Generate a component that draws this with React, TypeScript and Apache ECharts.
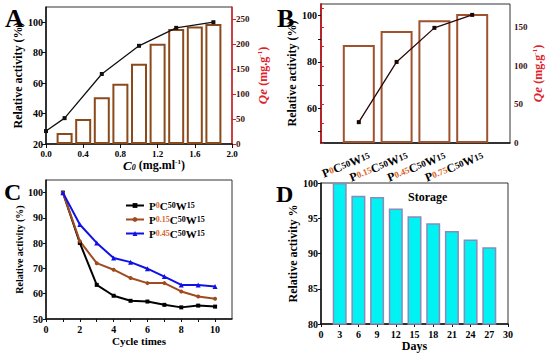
import React, { useEffect, useRef } from "react";
import * as echarts from "echarts";

const FONT = "Liberation Serif";
const RED = "#e0202a";
const BROWN = "#a0522d";
const ORANGE = "#d9661f";

// Panel A
const A_barX = [0.2, 0.4, 0.6, 0.8, 1.0, 1.2, 1.4, 1.6, 1.8];
const A_qe = [22, 50, 94, 121, 161, 201, 231, 236, 241];
const A_lineX = [0, 0.2, 0.6, 1.0, 1.4, 1.8];
const A_activity = [28.5, 37, 66, 84.5, 96.3, 100];
const A_xTicks = [0, 0.4, 0.8, 1.2, 1.6, 2.0];
const A_leftTicks = [20, 40, 60, 80, 100];
const A_rightTicks = [0, 50, 100, 150, 200, 250];

// Panel B
const B_pos = [1, 2, 3, 4];
const B_p = ["0", "0.15", "0.45", "0.75"];
const B_qe = [127, 145, 159, 167];
const B_activity = [54, 80, 94.7, 100.3];
const B_leftTicks = [60, 80, 100];
const B_rightTicks = [0, 50, 100, 150];

// Panel C
const C_cycles = [1, 2, 3, 4, 5, 6, 7, 8, 9, 10];
const C_names = ["P0C50W15", "P0.15C50W15", "P0.45C50W15"];
const C_p0 = [100, 80.1, 63.5, 59.2, 57.2, 56.9, 55.6, 54.6, 55.3, 54.9];
const C_p015 = [100, 80.8, 72.1, 69.5, 66.2, 64.2, 64.2, 60.9, 58.9, 58.0];
const C_p045 = [100, 87.4, 80.1, 74.1, 72.5, 69.9, 66.8, 63.5, 63.5, 62.9];
const C_xTicks = [0, 2, 4, 6, 8, 10];
const C_yTicks = [50, 60, 70, 80, 90, 100];

// Panel D
const D_days = [3, 6, 9, 12, 15, 18, 21, 24, 27];
const D_activity = [100, 98.2, 98.0, 96.4, 95.3, 94.3, 93.2, 92.0, 90.9];

const bold = (size: number, extra: any = {}) => ({
  fontFamily: FONT,
  fontWeight: "bold",
  fontSize: size,
  color: "#000",
  ...extra,
});

const qeRich = {
  qi: bold(13, { color: RED, fontStyle: "italic" }),
  t: bold(12, { color: RED }),
  sup: bold(7, { color: RED, verticalAlign: "top" }),
};
const qeName = "{qi|Qe} {t|(mg.g}{sup|-1}{t|)}";

const pRich = (size: number) => ({
  p: bold(size),
  o: bold(size - 3, { color: ORANGE }),
  s: bold(size - 3),
});
const pLabel = (p: string) => `{p|P}{o|${p}}{p|C}{s|50}{p|W}{s|15}`;

const axisLineBlack = { show: true, lineStyle: { color: "#111", width: 1.5 } };
const axisLineRed = { show: true, lineStyle: { color: RED, width: 1.5 } };

const bLabelAxis = (values: number[], showLine: boolean) => ({
  gridIndex: 1,
  type: "value",
  position: "bottom",
  offset: 0,
  min: 0,
  max: 5,
  axisLine: showLine ? axisLineBlack : { show: false },
  axisTick: { show: false },
  axisLabel: {
    customValues: values.map((p) => p + 0.28),
    formatter: (v: number) => pLabel(B_p[Math.round(v - 0.28) - 1]),
    rotate: 22,
    margin: 12,
    showMinLabel: true,
    showMaxLabel: true,
    hideOverlap: false,
    rich: pRich(12),
  },
  splitLine: { show: false },
});

export default function App() {
  const ref = useRef<HTMLDivElement>(null);
  useEffect(() => {
    if (!ref.current) return;
    const chart = echarts.init(ref.current, null, { renderer: "svg" });
    const gridBase = {
      show: true,
      borderColor: "#333",
      borderWidth: 1,
      backgroundColor: "transparent",
      outerBoundsMode: "none",
      containLabel: false,
    };
    const option: any = {
      animation: false,
      backgroundColor: "#fff",
      grid: [
        { ...gridBase, left: 46, top: 7, width: 186, height: 137 },
        { ...gridBase, left: 321, top: 4, width: 189, height: 139 },
        { ...gridBase, left: 46, top: 180, width: 186, height: 139 },
        { ...gridBase, left: 321, top: 183, width: 187, height: 141 },
      ],
      xAxis: [
        {
          gridIndex: 0,
          type: "value",
          min: 0,
          max: 2,
          axisLine: axisLineBlack,
          axisTick: { show: true, customValues: A_xTicks, length: 4, lineStyle: { color: "#111" } },
          axisLabel: {
            customValues: A_xTicks,
            formatter: (v: number) => v.toFixed(1),
            margin: 5,
            showMinLabel: true,
            showMaxLabel: true,
            ...bold(9),
          },
          splitLine: { show: false },
          name: "{ci|C}{sub|0}{t| (mg.ml}{sup|-1}{t|)}",
          nameLocation: "middle",
          nameGap: 14,
          nameTextStyle: {
            padding: [0, 0, 0, 30],
            rich: {
              ci: bold(13, { fontStyle: "italic" }),
              sub: bold(8, { fontStyle: "italic", verticalAlign: "bottom" }),
              t: bold(12),
              sup: bold(7, { verticalAlign: "top" }),
            },
          },
        },
        bLabelAxis([1, 3], true),
        {
          gridIndex: 2,
          type: "value",
          min: 0,
          max: 11,
          axisLine: axisLineBlack,
          axisTick: { show: true, customValues: [0, 1, 2, 3, 4, 5, 6, 7, 8, 9, 10], length: 3, lineStyle: { color: "#111" } },
          axisLabel: { customValues: C_xTicks, margin: 5, showMinLabel: true, ...bold(10) },
          splitLine: { show: false },
          name: "Cycle times",
          nameLocation: "middle",
          nameGap: 16,
          nameTextStyle: bold(11),
        },
        {
          gridIndex: 3,
          type: "value",
          min: 0,
          max: 30,
          interval: 3,
          axisLine: axisLineBlack,
          axisTick: { show: true, length: 3, lineStyle: { color: "#111" } },
          axisLabel: { margin: 5, showMinLabel: true, showMaxLabel: true, ...bold(10) },
          splitLine: { show: false },
          name: "Days",
          nameLocation: "middle",
          nameGap: 15,
          nameTextStyle: bold(12),
        },
        bLabelAxis([2, 4], false),
      ],
      yAxis: [
        {
          gridIndex: 0,
          type: "value",
          min: 20,
          max: 110,
          position: "left",
          axisLine: axisLineBlack,
          axisTick: { show: true, customValues: A_leftTicks, length: 4, lineStyle: { color: "#111" } },
          axisLabel: { customValues: A_leftTicks, margin: 3, ...bold(10) },
          splitLine: { show: false },
          name: "Relative activity (%)",
          nameLocation: "middle",
          nameRotate: 90,
          nameGap: 19,
          nameTextStyle: bold(12),
        },
        {
          gridIndex: 0,
          type: "value",
          min: 0,
          max: 275,
          position: "right",
          axisLine: axisLineRed,
          axisTick: { show: true, customValues: A_rightTicks, length: 4, lineStyle: { color: RED } },
          axisLabel: { customValues: A_rightTicks, margin: 4, ...bold(9, { color: "#3a1010" }) },
          splitLine: { show: false },
          name: qeName,
          nameLocation: "middle",
          nameRotate: 90,
          nameGap: 24,
          nameTextStyle: { rich: qeRich },
        },
        {
          gridIndex: 1,
          type: "value",
          min: 45,
          max: 105,
          position: "left",
          axisLine: axisLineBlack,
          axisTick: { show: true, customValues: [50, 60, 70, 80, 90, 100], length: 3, lineStyle: { color: "#111" } },
          axisLabel: { customValues: B_leftTicks, margin: 4, ...bold(10) },
          splitLine: { show: false },
          name: "Relative activity (%)",
          nameLocation: "middle",
          nameRotate: 90,
          nameGap: 22,
          nameTextStyle: bold(12),
        },
        {
          gridIndex: 1,
          type: "value",
          min: 0,
          max: 180,
          position: "right",
          axisLine: axisLineRed,
          axisTick: { show: true, customValues: [0, 25, 50, 75, 100, 125, 150, 175], length: 3, lineStyle: { color: RED } },
          axisLabel: { customValues: B_rightTicks, margin: 4, ...bold(9, { color: "#3a1010" }) },
          splitLine: { show: false },
          name: qeName,
          nameLocation: "middle",
          nameRotate: 90,
          nameGap: 19,
          nameTextStyle: { rich: qeRich },
        },
        {
          gridIndex: 2,
          type: "value",
          min: 50,
          max: 105,
          axisLine: axisLineBlack,
          axisTick: { show: true, customValues: C_yTicks, length: 3, lineStyle: { color: "#111" } },
          axisLabel: { customValues: C_yTicks, margin: 3, ...bold(10) },
          splitLine: { show: false },
          name: "Relative activity (%)",
          nameLocation: "middle",
          nameRotate: 90,
          nameGap: 22,
          nameTextStyle: bold(10),
        },
        {
          gridIndex: 3,
          type: "value",
          min: 80,
          max: 100,
          interval: 5,
          axisLine: axisLineBlack,
          axisTick: { show: true, length: 3, lineStyle: { color: "#111" } },
          axisLabel: { margin: 3, ...bold(10) },
          splitLine: { show: false },
          name: "Relative activity %",
          nameLocation: "middle",
          nameRotate: 90,
          nameGap: 22,
          nameTextStyle: bold(12),
        },
      ],
      legend: {
        data: C_names,
        left: 120,
        top: 195,
        orient: "vertical",
        itemWidth: 18,
        itemHeight: 6,
        itemGap: 3,
        formatter: (name: string) => {
          const m = name.match(/^P([\d.]+)C50W15$/);
          return pLabel(m ? m[1] : name);
        },
        textStyle: { rich: pRich(11) },
      },
      series: [
        {
          type: "bar",
          xAxisIndex: 0,
          yAxisIndex: 1,
          barWidth: 16,
          data: A_barX.map((x, i) => [x, A_qe[i]]),
          itemStyle: { color: "#fff", borderColor: "#8b4a1c", borderWidth: 2 },
        },
        {
          type: "line",
          xAxisIndex: 0,
          yAxisIndex: 0,
          data: A_lineX.map((x, i) => [x, A_activity[i]]),
          symbol: "rect",
          symbolSize: 4,
          itemStyle: { color: "#111" },
          lineStyle: { color: "#111", width: 1.3 },
        },
        {
          type: "bar",
          xAxisIndex: 1,
          yAxisIndex: 3,
          barWidth: 32,
          data: B_pos.map((x, i) => [x, B_qe[i]]),
          itemStyle: { color: "#fff", borderColor: BROWN, borderWidth: 2 },
        },
        {
          type: "line",
          xAxisIndex: 1,
          yAxisIndex: 2,
          data: B_pos.map((x, i) => [x, B_activity[i]]),
          symbol: "rect",
          symbolSize: 4,
          itemStyle: { color: "#1a0505" },
          lineStyle: { color: "#2a0808", width: 1.3 },
        },
        {
          name: C_names[0],
          type: "line",
          xAxisIndex: 2,
          yAxisIndex: 4,
          data: C_cycles.map((x, i) => [x, C_p0[i]]),
          symbol: "rect",
          symbolSize: 4,
          itemStyle: { color: "#000" },
          lineStyle: { color: "#000", width: 2 },
        },
        {
          name: C_names[1],
          type: "line",
          xAxisIndex: 2,
          yAxisIndex: 4,
          data: C_cycles.map((x, i) => [x, C_p015[i]]),
          symbol: "circle",
          symbolSize: 4,
          itemStyle: { color: "#a04a20" },
          lineStyle: { color: "#a04a20", width: 2 },
        },
        {
          name: C_names[2],
          type: "line",
          xAxisIndex: 2,
          yAxisIndex: 4,
          data: C_cycles.map((x, i) => [x, C_p045[i]]),
          symbol: "triangle",
          symbolSize: 5,
          itemStyle: { color: "#1010e8" },
          lineStyle: { color: "#1010e8", width: 2 },
        },
        {
          type: "bar",
          xAxisIndex: 3,
          yAxisIndex: 5,
          barWidth: 14,
          data: D_days.map((x, i) => [x, D_activity[i]]),
          itemStyle: { color: "#00f2f2", borderColor: "#8a8abb", borderWidth: 1.5 },
        },
      ],
      graphic: [
        { type: "text", left: 5, top: 5, style: { text: "A", ...bold(26) } },
        { type: "text", left: 277, top: 5, style: { text: "B", ...bold(26) } },
        { type: "text", left: 4, top: 180, style: { text: "C", ...bold(24) } },
        { type: "text", left: 276, top: 182, style: { text: "D", ...bold(24) } },
        { type: "text", left: 408, top: 191, style: { text: "Storage", ...bold(12) } },
      ],
    };
    chart.setOption(option);
    return () => chart.dispose();
  }, []);
  return (
    <div
      ref={ref}
      style={{ position: "fixed", left: 0, top: 0, width: 550, height: 355, background: "#fff" }}
    />
  );
}
